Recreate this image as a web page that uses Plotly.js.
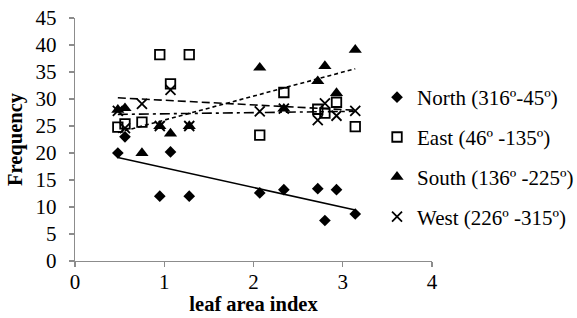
<!DOCTYPE html>
<html>
<head>
<meta charset="utf-8">
<script src="https://cdn.plot.ly/plotly-3.0.1.min.js"></script>
<style>html,body{margin:0;padding:0;background:#fff;}#chart{width:577px;height:318px;}</style>
</head>
<body>
<div id="chart"></div>
<script>
// leaf area index of the sites
const lai = [0.48, 0.56, 0.75, 0.95, 1.07, 1.28, 2.07, 2.34, 2.72, 2.80, 2.93, 3.14];
const northLai  = [0.48, 0.56, 0.95, 1.07, 1.28, 2.07, 2.34, 2.72, 2.80, 2.93, 3.14];
const northFreq = [20.0, 23.0, 12.0, 20.2, 12.0, 12.6, 13.2, 13.4, 7.5, 13.2, 8.7];
const eastFreq  = [24.8, 25.4, 25.7, 38.2, 32.8, 38.2, 23.3, 31.2, 28.1, 27.4, 29.4, 24.9];
const southFreq = [28.0, 28.3, 20.0, 25.0, 23.6, 25.0, 35.8, 28.2, 33.3, 36.1, 31.1, 39.1];
const westFreq  = [27.8, 24.6, 29.1, 25.0, 31.7, 25.0, 27.7, 28.2, 26.1, 29.2, 26.9, 27.8];
const seriesNames = ["North (316º-45º)", "East (46º -135º)", "South (136º -225º)", "West (226º -315º)"];
const xTicks = [0, 1, 2, 3, 4];
const yTicks = [0, 5, 10, 15, 20, 25, 30, 35, 40, 45];

function linFit(xs, ys) {
  const n = xs.length;
  const mx = xs.reduce((a, b) => a + b, 0) / n;
  const my = ys.reduce((a, b) => a + b, 0) / n;
  let sxy = 0, sxx = 0;
  for (let i = 0; i < n; i++) { sxy += (xs[i] - mx) * (ys[i] - my); sxx += (xs[i] - mx) ** 2; }
  const b = sxy / sxx, a = my - b * mx;
  const x0 = Math.min(...xs), x1 = Math.max(...xs);
  return { x: [x0, x1], y: [a + b * x0, a + b * x1] };
}

const font = "Liberation Serif, Times New Roman, serif";
const FS = 21;
const series = [
  { x: northLai, y: northFreq, marker: { symbol: "diamond", size: 9, color: "#000" }, dash: "solid" },
  { x: lai, y: eastFreq,  marker: { symbol: "square-open", size: 9.5, color: "#000", line: { width: 1.8, color: "#000" } }, dash: "8px,4px" },
  { x: lai, y: southFreq, marker: { symbol: "triangle-up", size: 11.5, color: "#000" }, dash: "4px,3px" },
  { x: lai, y: westFreq,  marker: { symbol: "x-thin-open", size: 10, color: "#000", line: { width: 1.8, color: "#000" } }, dash: "10px,4px,3px,4px" }
];

const traces = [];
series.forEach((s) => {
  const f = linFit(s.x, s.y);
  traces.push({
    x: f.x, y: f.y, type: "scatter", mode: "lines", showlegend: false, hoverinfo: "skip",
    line: { color: "#000", width: 1.6, dash: s.dash }
  });
});
series.forEach((s, i) => {
  traces.push({
    x: s.x, y: s.y, type: "scatter", mode: "markers", name: seriesNames[i],
    legendgroup: "g" + i, marker: s.marker, cliponaxis: false
  });
});

const layout = {
  width: 577, height: 318,
  margin: { l: 75, r: 145, t: 18, b: 57, autoexpand: false },
  paper_bgcolor: "#fff", plot_bgcolor: "#fff",
  font: { family: font, size: FS, color: "#000" },
  showlegend: true,
  legend: {
    x: 0.846, xanchor: "left", y: 0.757, yanchor: "top",
    bgcolor: "rgba(0,0,0,0)", font: { family: font, size: FS, color: "#000" },
    traceorder: "grouped", tracegroupgap: 9.5, itemwidth: 30
  },
  xaxis: {
    range: [0, 4], tickvals: xTicks, ticktext: xTicks.map(String),
    showgrid: false, zeroline: false, showline: true, linecolor: "#8c8c8c", linewidth: 1.3,
    ticks: "outside", ticklen: 5, tickcolor: "#8c8c8c", tickwidth: 1.3,
    tickfont: { family: font, size: FS, color: "#000" }, ticklabelstandoff: -4,
    title: { text: "<b>leaf area index</b>", font: { family: font, size: 20.5, color: "#000" }, standoff: 0 }
  },
  yaxis: {
    range: [0, 45], tickvals: yTicks, ticktext: yTicks.map(String),
    showgrid: false, zeroline: false, showline: true, linecolor: "#8c8c8c", linewidth: 1.3,
    ticks: "outside", ticklen: 5, tickcolor: "#8c8c8c", tickwidth: 1.3,
    tickfont: { family: font, size: FS, color: "#000" }, ticklabelstandoff: 8,
    title: { text: "<b>Frequency</b>", font: { family: font, size: 20.5, color: "#000" }, standoff: 7 }
  }
};

Plotly.newPlot("chart", traces, layout, { displayModeBar: false, staticPlot: true });
</script>
</body>
</html>
